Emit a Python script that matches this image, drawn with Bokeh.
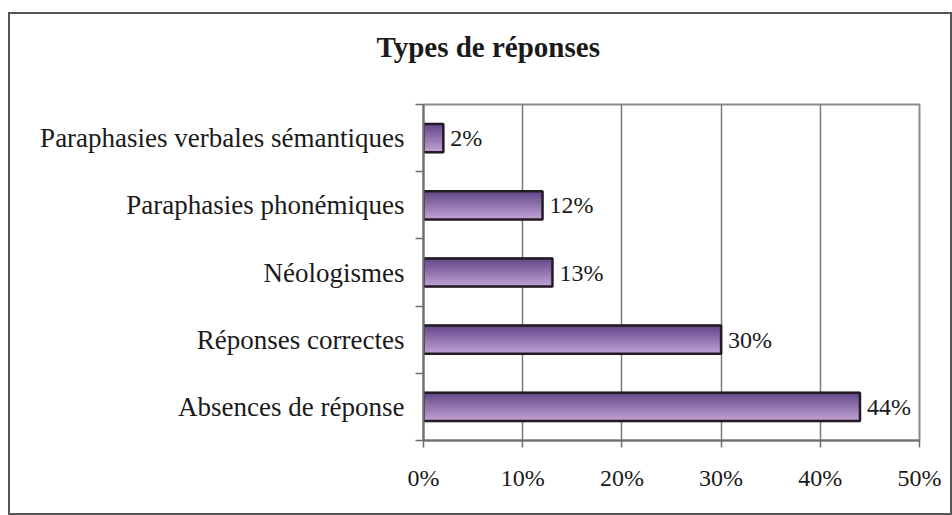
import numpy as np
from bokeh.plotting import figure
from bokeh.models import FixedTicker, PrintfTickFormatter, ColumnDataSource, Range1d, Title
from bokeh.embed import file_html
from bokeh.resources import INLINE

# ---- data ----
categories = ["Absences de réponse", "Réponses correctes", "Néologismes",
              "Paraphasies phonémiques", "Paraphasies verbales sémantiques"]
values = [44, 30, 13, 12, 2]
x_ticks = [0, 10, 20, 30, 40, 50]
title_text = "Types de réponses"

FONT = "Liberation Serif"
n = len(categories)
centers = np.arange(n) + 0.5
bar_h = 0.42

p = figure(output_backend="svg", toolbar_location=None,
           frame_width=496, frame_height=336,
           min_border_left=413, min_border_right=31, min_border_top=90, min_border_bottom=73,
           x_range=Range1d(0, 50), y_range=Range1d(0, n))
p.styles = {"border": "2px solid #555555", "margin-top": "12px", "margin-left": "8px"}
p.background_fill_color = "white"
p.border_fill_color = "white"

# real title, with a blank (white) spacer title between it and the frame
p.title = Title(text=title_text, align="left", offset=-47, standoff=0,
                text_font=FONT, text_font_size="29px", text_font_style="bold",
                text_color="#1a1a1a")
p.add_layout(Title(text=".", text_color="white", text_font_size="10px", standoff=32), "above")

# frame outline
p.outline_line_color = "#8c8c8c"
p.outline_line_width = 2

# grid
p.ygrid.grid_line_color = None
p.xgrid.ticker = FixedTicker(ticks=x_ticks)
p.xgrid.grid_line_color = "#7a7a7a"
p.xgrid.grid_line_width = 1.5

# x axis
p.xaxis.ticker = FixedTicker(ticks=x_ticks)
p.xaxis.formatter = PrintfTickFormatter(format="%d%%")
p.xaxis.axis_line_color = "#6e6e6e"
p.xaxis.axis_line_width = 2
p.xaxis.major_tick_line_color = "#6e6e6e"
p.xaxis.major_tick_line_width = 1.5
p.xaxis.major_tick_in = 0
p.xaxis.major_tick_out = 7
p.xaxis.minor_tick_line_color = None
p.xaxis.major_label_text_font = FONT
p.xaxis.major_label_text_font_size = "24px"
p.xaxis.major_label_text_color = "#1a1a1a"
p.xaxis.major_label_standoff = 17

# y axis: labels at category centers, ticks at boundaries
p.yaxis.ticker = FixedTicker(ticks=list(centers), minor_ticks=list(range(n + 1)))
p.yaxis.major_label_overrides = {float(c): cat for c, cat in zip(centers, categories)}
p.yaxis.axis_line_color = "#6e6e6e"
p.yaxis.axis_line_width = 2
p.yaxis.major_tick_line_color = None
p.yaxis.major_tick_in = 0
p.yaxis.major_tick_out = 0
p.yaxis.minor_tick_line_color = "#6e6e6e"
p.yaxis.minor_tick_line_width = 1.5
p.yaxis.minor_tick_in = 0
p.yaxis.minor_tick_out = 8
p.yaxis.major_label_text_font = FONT
p.yaxis.major_label_text_font_size = "27px"
p.yaxis.major_label_text_color = "#1a1a1a"
p.yaxis.major_label_standoff = 11

# gradient bars (strips from dark top to light bottom)
N = 14
top_c = np.array([0x60, 0x44, 0x86])
bot_c = np.array([0xc0, 0xa2, 0xd5])
ys, rights, cols = [], [], []
for c, v in zip(centers, values):
    for k in range(N):
        t = (k + 0.5) / N
        ys.append(c + bar_h / 2 - t * bar_h)
        rights.append(v)
        rgb = (top_c * (1 - t) + bot_c * t).astype(int)
        cols.append("#%02x%02x%02x" % tuple(rgb))
strips = ColumnDataSource(dict(y=ys, right=rights, color=cols))
p.hbar(y="y", left=0, right="right", height=bar_h / N * 1.6, source=strips,
       fill_color="color", line_color="color", line_width=0.5)

src = ColumnDataSource(dict(y=list(centers), right=values,
                            lab=["%d%%" % v for v in values]))
p.hbar(y="y", left=0, right="right", height=bar_h, source=src,
       fill_color=None, line_color="#231a23", line_width=2.5)

p.text(x="right", y="y", text="lab", source=src, x_offset=7,
       text_align="left", text_baseline="middle",
       text_font={"value": FONT}, text_font_size={"value": "24px"},
       text_color="#1a1a1a")

open("out.html", "w").write(file_html(p, INLINE))
